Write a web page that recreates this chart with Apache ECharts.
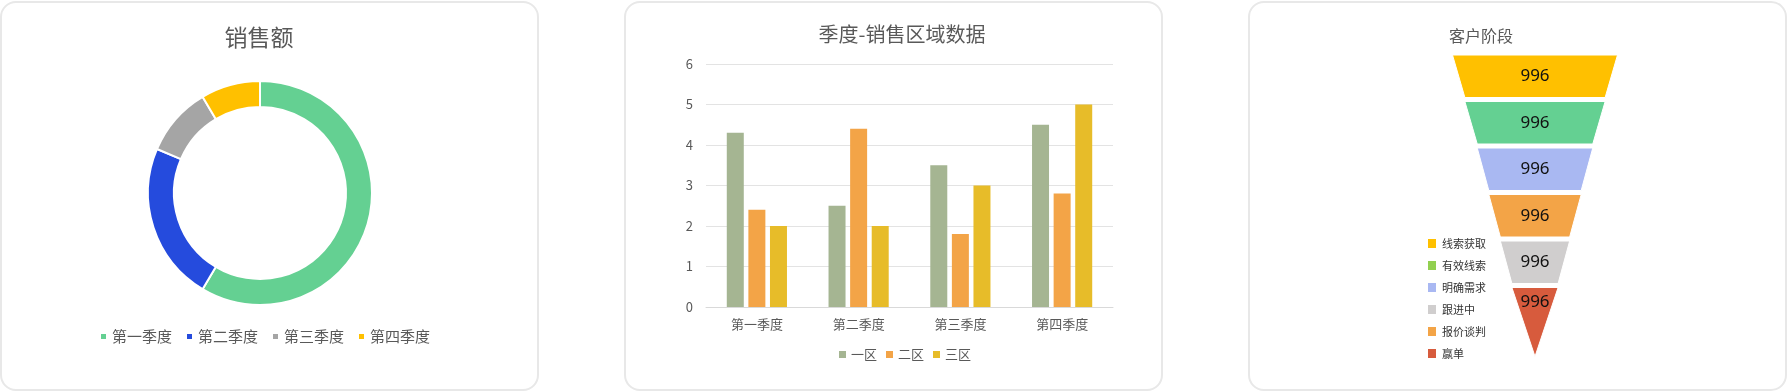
<!DOCTYPE html>
<html><head><meta charset="utf-8">
<script src="https://cdn.jsdelivr.net/npm/echarts@6/dist/echarts.min.js"></script>
<style>
html,body{margin:0;padding:0;background:#fff;width:1788px;height:392px;overflow:hidden}
.panel{position:absolute;top:1px;height:386px;width:535px;border:2px solid #E8E8E8;border-radius:16px;background:#fff}
#chart{position:absolute;left:0;top:0;width:1788px;height:392px}
</style></head><body>
<div class="panel" style="left:0px"></div>
<div class="panel" style="left:624px"></div>
<div class="panel" style="left:1248px"></div>
<div id="chart"></div>
<script>
// ---- data ----
const quarters = ['第一季度', '第二季度', '第三季度', '第四季度'];
const salesValues = [8.2, 3.2, 1.4, 1.2];

const regions = ['一区', '二区', '三区'];
const region1 = [4.3, 2.5, 3.5, 4.5];
const region2 = [2.4, 4.4, 1.8, 2.8];
const region3 = [2.0, 2.0, 3.0, 5.0];
const yMin = 0, yMax = 6, yStep = 1;

const stages = ['线索获取', '有效线索', '明确需求', '跟进中', '报价谈判', '赢单'];
const stageSizes = [100, 85, 70, 56, 42, 28];
const stageCounts = [996, 996, 996, 996, 996, 996];

// ---- styles ----
const FONT = '"Noto Sans CJK SC", "Noto Sans", sans-serif';
const NUMFONT = '"Liberation Sans Narrow", "Noto Sans", sans-serif';
const pieColors = ['#64D092', '#254BDD', '#A5A5A5', '#FFC000'];
const barColors = ['#A5B592', '#F3A447', '#E7BC29'];
const funnelColors = ['#FFC000', '#64D092', '#A9B8F2', '#F3A447', '#D0CECE', '#D75B3D'];
const funnelLegendColors = ['#FFC000', '#92D050', '#A9B8F2', '#D0CECE', '#F3A447', '#D75B3D'];

const chart = echarts.init(document.getElementById('chart'), null, {renderer: 'canvas'});

const regionSeries = [region1, region2, region3].map((vals, i) => ({
  type: 'bar', name: regions[i], data: vals,
  xAxisIndex: 0, yAxisIndex: 0,
  barWidth: 17, barGap: '27%',
  itemStyle: {color: barColors[i]},
  silent: true
}));

const lastIdx = stages.length - 1;
const funnelData = stages.map((s, i) => ({
  name: s, value: stageSizes[i], count: stageCounts[i],
  itemStyle: {color: funnelColors[i], height: i === lastIdx ? 69 : 42.5}
}));

chart.setOption({
  animation: false,
  textStyle: {fontFamily: FONT},
  title: [
    {text: '销售额', left: 259, top: 26, textAlign: 'center', padding: 0,
     textStyle: {fontSize: 23, fontWeight: 'normal', color: '#595959', fontFamily: FONT}},
    {text: '季度-销售区域数据', left: 902, top: 24, textAlign: 'center', padding: 0,
     textStyle: {fontSize: 20, fontWeight: 'normal', color: '#595959', fontFamily: FONT}},
    {text: '客户阶段', left: 1481, top: 28, textAlign: 'center', padding: 0,
     textStyle: {fontSize: 16, fontWeight: 'normal', color: '#595959', fontFamily: FONT}}
  ],
  legend: [
    {data: quarters, left: 99, top: 329, padding: 0, itemWidth: 7, itemHeight: 7, itemGap: 13,
     icon: 'rect', selectedMode: false,
     textStyle: {fontSize: 15, color: '#595959', fontFamily: FONT}},
    {data: regions, left: 839, top: 348, padding: 0, itemWidth: 7, itemHeight: 7, itemGap: 9,
     icon: 'rect', selectedMode: false,
     textStyle: {fontSize: 13, color: '#595959', fontFamily: FONT}},
    {data: stages.map((s, i) => ({name: s, itemStyle: {color: funnelLegendColors[i]}})),
     orient: 'vertical', left: 1426, top: 237, padding: 0, itemWidth: 10, itemHeight: 11, itemGap: 9,
     icon: 'rect', selectedMode: false,
     textStyle: {fontSize: 11, color: '#333333', fontFamily: FONT}}
  ],
  grid: [{left: 706, top: 64, width: 407, height: 243, containLabel: false}],
  xAxis: [{
    type: 'category', data: quarters, gridIndex: 0,
    axisLine: {show: true, lineStyle: {color: '#D9D9D9', width: 1}},
    axisTick: {show: false},
    axisLabel: {fontSize: 13, color: '#595959', margin: 11, fontFamily: FONT},
    splitLine: {show: false}
  }],
  yAxis: [{
    type: 'value', gridIndex: 0, min: yMin, max: yMax, interval: yStep,
    axisLine: {show: false}, axisTick: {show: false},
    axisLabel: {fontSize: 13, color: '#595959', margin: 13, fontFamily: FONT},
    splitLine: {show: true, lineStyle: {color: '#E3E3E3', width: 1}}
  }],
  series: [
    {
      type: 'pie', name: '销售额', center: [260, 193], radius: [86, 112],
      startAngle: 90, clockwise: true, silent: true,
      label: {show: false}, labelLine: {show: false},
      itemStyle: {borderColor: '#fff', borderWidth: 2},
      data: quarters.map((q, i) => ({name: q, value: salesValues[i], itemStyle: {color: pieColors[i]}}))
    },
    ...regionSeries,
    {
      type: 'funnel', name: '客户阶段',
      left: 1452.5, top: 55, width: 165, height: 303,
      min: 0, max: 100, minSize: '0%', maxSize: '100%',
      sort: 'none', gap: 4, funnelAlign: 'center', silent: true,
      itemStyle: {borderColor: '#fff', borderWidth: 1},
      label: {show: true, position: 'inside', fontSize: 17, lineHeight: 20, color: '#111',
              fontFamily: NUMFONT,
              formatter: p => p.dataIndex === lastIdx
                ? String(p.data.count) + '\n \n '
                : String(p.data.count)},
      labelLine: {show: false},
      data: funnelData
    }
  ]
});
</script>
</body></html>
